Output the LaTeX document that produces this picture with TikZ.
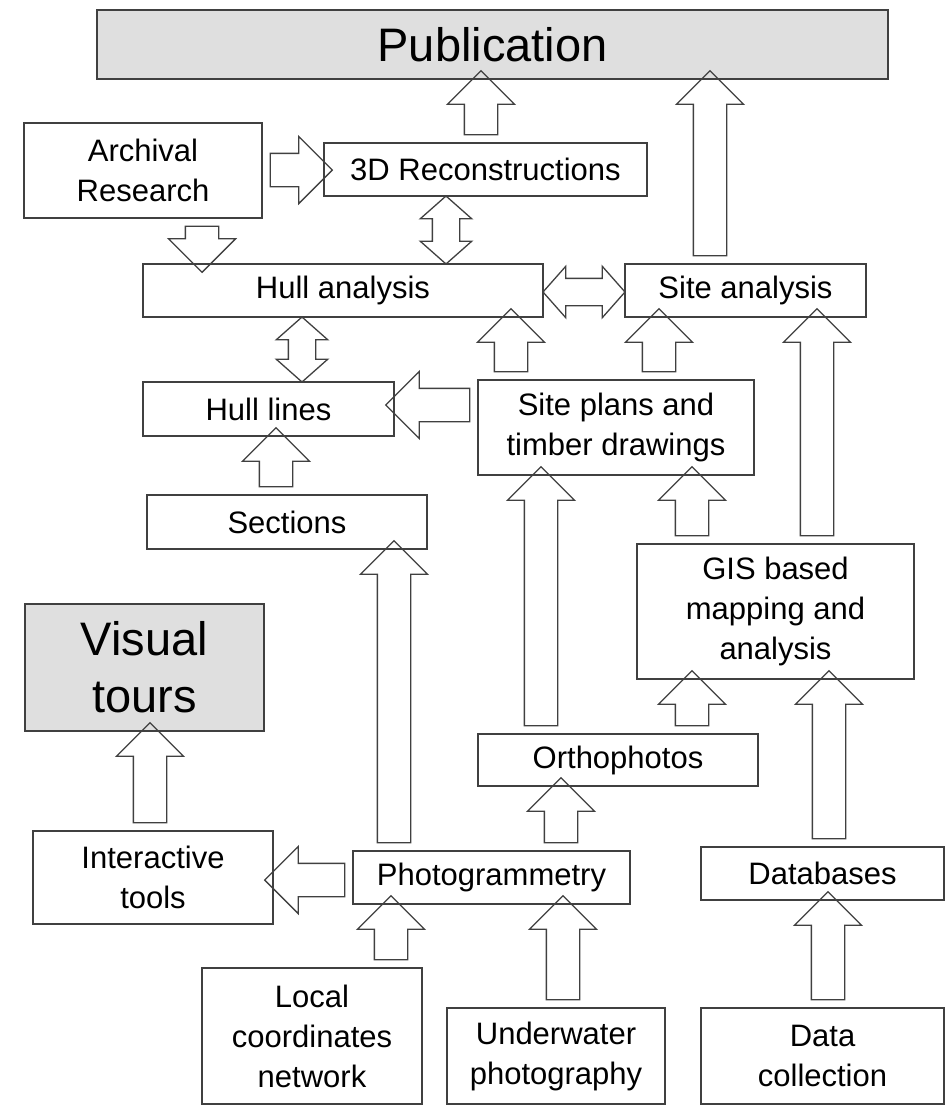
\documentclass[tikz,border=0pt]{standalone}
\usepackage{fontspec}
\setmainfont{Liberation Sans}
\usetikzlibrary{shapes.arrows}
\begin{document}
\begin{tikzpicture}[x=1pt,y=-1pt,
  box/.style={draw=black!75,line width=1.4pt,align=center,font=\fontsize{31}{40}\selectfont,inner sep=1pt},
  gbox/.style={box,fill=gray!25},
  sa/.style={single arrow,draw=black!75,line width=1.3pt,inner xsep=0pt,inner ysep=16pt,single arrow head extend=17pt,single arrow tip angle=90,single arrow head indent=0pt},
  da/.style={double arrow,draw=black!75,line width=1.3pt,inner xsep=0pt,inner ysep=13pt,double arrow head extend=12pt,double arrow tip angle=97,double arrow head indent=0pt}]
\newcommand\VA[4][sa]{\pgfmathsetmacro\len{abs(#3-#4)}\pgfmathsetmacro\mid{(#3+#4)/2}\node[#1,rotate=90,minimum height=\len pt] at (#2,\mid) {};}
\newcommand\DA[4][sa]{\pgfmathsetmacro\len{abs(#3-#4)}\pgfmathsetmacro\mid{(#3+#4)/2}\node[#1,rotate=-90,minimum height=\len pt] at (#2,\mid) {};}
\newcommand\HA[5][sa]{\pgfmathsetmacro\len{abs(#3-#4)}\pgfmathsetmacro\mid{(#3+#4)/2}\node[#1,rotate=#5,minimum height=\len pt] at (\mid,#2) {};}
\useasboundingbox (0,0) rectangle (946,1114);
\node[gbox,minimum width=791pt,minimum height=69pt,font=\fontsize{47}{52}\selectfont] (pub) at (492.5,44.5) {Publication};
\node[box,minimum width=238pt,minimum height=95pt] (arch) at (143,170.5) {Archival\\Research};
\node[box,minimum width=323pt,minimum height=53pt] (rec) at (485.5,169.5) {3D Reconstructions};
\node[box,minimum width=400pt,minimum height=53pt] (hull) at (343,290.5) {Hull analysis};
\node[box,minimum width=241pt,minimum height=53pt] (site) at (745.5,290.5) {Site analysis};
\node[box,minimum width=251pt,minimum height=54pt] (lines) at (268.5,409) {Hull lines};
\node[box,minimum width=276pt,minimum height=95pt] (plans) at (616,427.5) {Site plans and\\timber drawings};
\node[box,minimum width=280pt,minimum height=54pt] (sect) at (287,522) {Sections};
\node[box,minimum width=277pt,minimum height=135pt] (gis) at (775.5,611.5) {GIS based\\mapping and\\analysis};
\node[gbox,minimum width=239pt,minimum height=127pt,font=\fontsize{47}{57}\selectfont] (vis) at (144.5,667.5) {Visual\\tours};
\node[box,minimum width=280pt,minimum height=52pt] (ortho) at (618,760) {Orthophotos};
\node[box,minimum width=240pt,minimum height=93pt] (inter) at (153,877.5) {Interactive\\tools};
\node[box,minimum width=277pt,minimum height=53pt] (photo) at (491.5,877.5) {Photogrammetry};
\node[box,minimum width=243pt,minimum height=53pt] (db) at (822.5,873.5) {Databases};
\node[box,minimum width=220pt,minimum height=136pt] (local) at (312,1036) {Local\\coordinates\\network};
\node[box,minimum width=218pt,minimum height=96pt] (under) at (556,1056) {Underwater\\photography};
\node[box,minimum width=243pt,minimum height=96pt] (data) at (822.5,1056) {Data\\collection};
% arrows
\VA{481}{143}{79}
\VA{710}{264}{79}
\HA{170}{262}{324}{0}
\DA{202}{218}{264}
\VA[da]{446}{196}{264}
\HA[da]{292}{543}{625}{0}
\VA{511}{380}{317}
\VA{659}{380}{317}
\VA[da]{302}{317}{382}
\HA{405}{478}{394}{180}
\VA{276}{495}{436}
\VA{692}{544}{475}
\VA{817}{544}{317}
\VA{394}{851}{549}
\VA{541}{734}{475}
\VA{692}{734}{679}
\VA{561}{851}{786}
\HA{880}{353}{273}{180}
\VA{150}{831}{731}
\VA{391}{968}{904}
\VA{563}{1008}{904}
\VA{828}{1008}{900}
\VA{829}{847}{679}
\end{tikzpicture}
\end{document}
